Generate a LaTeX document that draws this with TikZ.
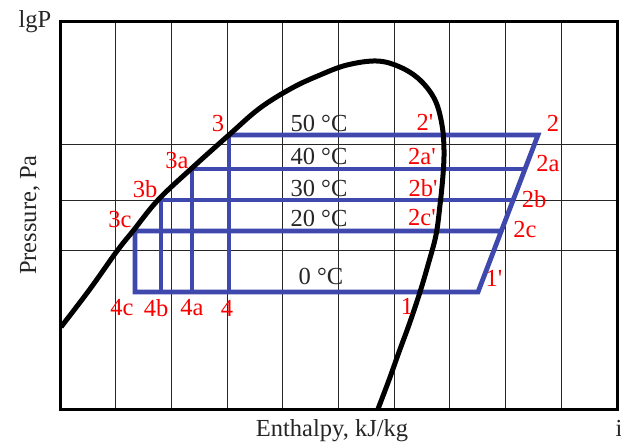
\documentclass[tikz,border=0pt]{standalone}
\usepackage{fontspec}
\setmainfont{Liberation Serif}
\usepackage{tikz}
\usetikzlibrary{positioning}
\definecolor{cycleblue}{RGB}{63,72,172}
\definecolor{ptred}{RGB}{250,0,0}

\begin{document}
\begin{tikzpicture}[x=1pt, y=-1pt, font=\fontsize{24.5}{28}\selectfont,
  gridline/.style={black!85, line width=1pt},
  cycleline/.style={cycleblue, line width=4.8pt},
  ptlabel/.style={text=ptred, inner sep=0pt},
  tlabel/.style={text=black!85, inner sep=0pt}]
  \useasboundingbox (0,0) rectangle (621,445);

  % Grid
  \foreach \k in {1,...,9} {
    \draw[gridline] ({60+55.7*\k},21) -- ({60+55.7*\k},409);
  }
  \foreach \y in {144,200,250} {
    \draw[gridline] (60,\y) -- (617,\y);
  }

  % Cycle points
  \coordinate (p3)  at (229,135);
  \coordinate (p2)  at (538,135);
  \coordinate (p3a) at (192,169);
  \coordinate (p2a) at (525,169);
  \coordinate (p3b) at (161,200);
  \coordinate (p2b) at (513,200);
  \coordinate (p3c) at (135,231);
  \coordinate (p2c) at (500,231);
  \coordinate (p1s) at (478,292);
  \coordinate (p4)  at (229,292);
  \coordinate (p4a) at (192,292);
  \coordinate (p4b) at (161,292);
  \coordinate (p4c) at (135,292);

  % Cycles
  \draw[cycleline] (p3) -- (p2) -- (p1s) -- (p4c) -- (p3c) -- (p2c);
  \draw[cycleline] (p3a) -- (p2a);
  \draw[cycleline] (p3b) -- (p2b);
  \draw[cycleline] (p3) -- (p4);
  \draw[cycleline] (p3a) -- (p4a);
  \draw[cycleline] (p3b) -- (p4b);

  % Saturation curve
  \draw[line width=5pt] plot[smooth, tension=0.6] coordinates {
    (61,327) (90,289) (117,251) (133,231) (158,200) (192,168) (230,134)
    (260,108) (292,88) (320,75) (347,65) (377,61) (400,67) (420,80)
    (435,100) (442,125) (444,150) (443,175) (440,205) (436,235)
    (428,265) (420,292) (410,322) (399,352) (389,380) (378,409)};

  % Frame
  \draw[line width=3pt] (60,21) rectangle (617,409);

  % Temperatures
  \node[tlabel] (t50) at (319,123) {50 °C};
  \node[tlabel] (t40) at (319,156) {40 °C};
  \node[tlabel] (t30) at (319,188) {30 °C};
  \node[tlabel] (t20) at (319,218) {20 °C};
  \node[tlabel] (t0)  at (321,276) {0 °C};

  % Point labels
  \node[ptlabel] (l3)   at (218,124) {3};
  \node[ptlabel] (l3a)  at (177,161) {3a};
  \node[ptlabel] (l3b)  at (145,189) {3b};
  \node[ptlabel] (l3c)  at (120,220) {3c};
  \node[ptlabel] (l4c)  at (122,308) {4c};
  \node[ptlabel] (l4b)  at (156,308) {4b};
  \node[ptlabel] (l4a)  at (192,308) {4a};
  \node[ptlabel] (l4)   at (227,308) {4};
  \node[ptlabel] (l1)   at (407,306) {1};
  \node[ptlabel] (l1s)  at (494,278) {1\textquotesingle};
  \node[ptlabel] (l2c)  at (525,230) {2c};
  \node[ptlabel] (l2b)  at (534,199) {2b};
  \node[ptlabel] (l2a)  at (548,164) {2a};
  \node[ptlabel] (l2)   at (553,123) {2};
  \node[ptlabel] (l2s)  at (425,122) {2\textquotesingle};
  \node[ptlabel] (l2as) at (422,157) {2a\textquotesingle};
  \node[ptlabel] (l2bs) at (423,188) {2b\textquotesingle};
  \node[ptlabel] (l2cs) at (422,218) {2c\textquotesingle};

  % Axes
  \node[tlabel] (ylab) at (35,22) {lgP};
  \node[tlabel, rotate=90] (ptitle) at (30,215) {Pressure, Pa};
  \node[tlabel] (htitle) at (332,431) {Enthalpy, kJ/kg};
  \node[tlabel] (xlab) at (619,428) {i};
\end{tikzpicture}
\end{document}
